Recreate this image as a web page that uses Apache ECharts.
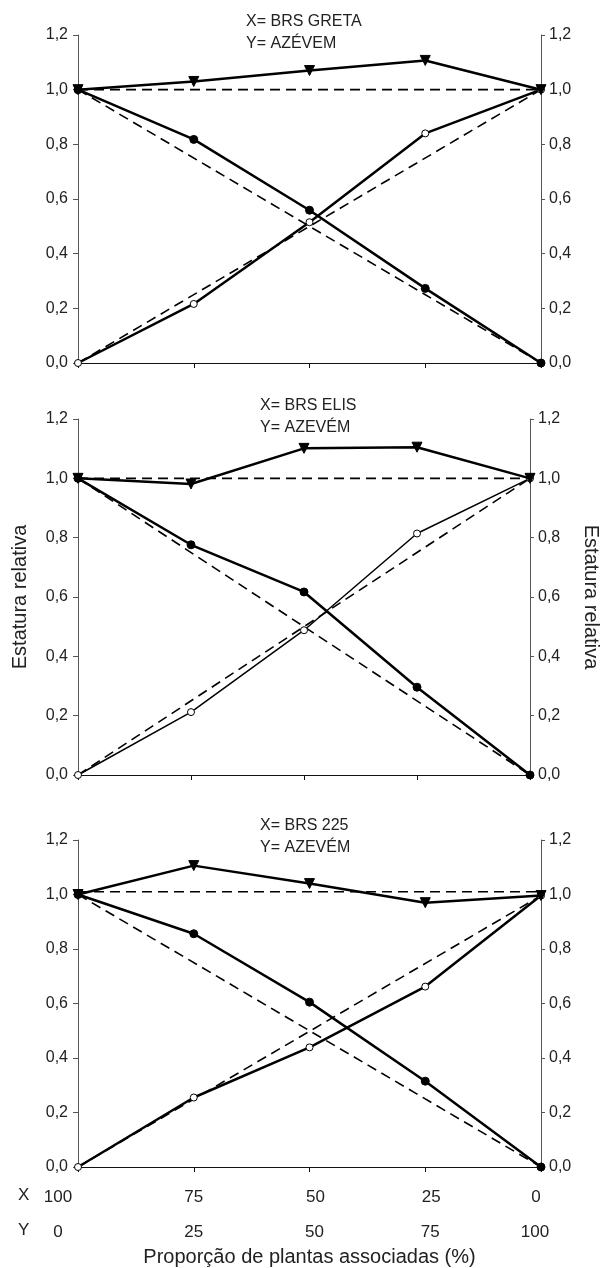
<!DOCTYPE html>
<html>
<head>
<meta charset="utf-8">
<script src="https://cdn.jsdelivr.net/npm/echarts@6/dist/echarts.min.js"></script>
<style>
html,body{margin:0;padding:0;background:#fff;}
#c{width:609px;height:1268px;}
</style>
</head>
<body>
<div id="c"></div>
<script>
// X proportion (%) and Y proportion (%) tick labels
const categoriesX = ['100', '75', '50', '25', '0'];
const categoriesY = ['0', '25', '50', '75', '100'];

// Panel titles
const titles = ['X= BRS GRETA\nY= AZÉVEM', 'X= BRS ELIS\nY= AZEVÉM', 'X= BRS 225\nY= AZEVÉM'];

// Relative stature values
const gretaTotal = [1.0, 1.030, 1.070, 1.107, 1.0];
const gretaX     = [1.0, 0.818, 0.559, 0.273, 0.0];
const gretaY     = [0.0, 0.216, 0.515, 0.840, 1.0];

const elisTotal  = [1.0, 0.981, 1.101, 1.105, 1.0];
const elisX      = [1.0, 0.776, 0.617, 0.296, 0.0];
const elisY      = [0.0, 0.212, 0.488, 0.814, 1.0];

const b225Total  = [1.0, 1.106, 1.040, 0.970, 0.996];
const b225X      = [1.0, 0.856, 0.605, 0.315, 0.0];
const b225Y      = [0.0, 0.255, 0.439, 0.662, 0.996];

// Expected (dashed) lines: values at first and last category
const expTotal = [[1.0, 1.0], [1.0, 1.0], [1.01, 1.01]];
const expX     = [[1.0, 0.0], [1.0, 0.0], [1.0, 0.0]];
const expY     = [[0.0, 1.0], [0.0, 1.0], [0.0, 0.996]];

const panels = [
  {total: gretaTotal, x: gretaX, y: gretaY, yWidth: 2.5},
  {total: elisTotal,  x: elisX,  y: elisY,  yWidth: 1.5},
  {total: b225Total,  x: b225X,  y: b225Y,  yWidth: 2.5}
];

const gridTops = [35, 419, 840];
const gridHeights = [328, 356, 327];
const titlePos = [[246, 11], [260, 395], [260, 815]];

const FONT = 'Liberation Sans, Arial, sans-serif';
const fmt = v => v.toFixed(1).replace('.', ',');

const option = {
  animation: false,
  backgroundColor: '#fff',
  textStyle: {fontFamily: FONT},
  title: titles.map((t, i) => ({
    text: t, left: titlePos[i][0], top: titlePos[i][1], padding: 0,
    textStyle: {fontFamily: FONT, fontSize: 16, fontWeight: 'normal', color: '#222', lineHeight: 22}
  })),
  grid: gridTops.map((t, i) => ({left: 78, right: 68, top: t, height: gridHeights[i]})),
  xAxis: [],
  yAxis: [],
  series: [],
  graphic: [
    {type: 'text', left: 18, top: 1187, style: {text: 'X', font: '17px ' + FONT, fill: '#222'}},
    {type: 'text', left: 18, top: 1222, style: {text: 'Y', font: '17px ' + FONT, fill: '#222'}}
  ]
};

const richBase = {fontSize: 17, color: '#222', fontFamily: FONT};
for (let i = 0; i < 3; i++) {
  const last = i === 2;
  option.xAxis.push({
    type: 'category', gridIndex: i, data: categoriesX, boundaryGap: false,
    axisLine: {lineStyle: {color: '#111', width: 1}},
    axisTick: {show: true, length: 5, lineStyle: {color: '#111'}},
    axisLabel: last ? {
      show: true, margin: 22, fontSize: 17, color: '#222', fontFamily: FONT,
      formatter: (v, idx) => idx === 0 ? '{a|' + v + '}' : (idx === 4 ? '{e|' + v + '}' : (idx >= 2 ? '{m|' + v + '}' : v)),
      rich: {
        a: Object.assign({padding: [0, 40, 0, 0]}, richBase),
        m: Object.assign({padding: [0, 0, 0, 12]}, richBase),
        e: Object.assign({padding: [0, 10, 0, 0]}, richBase)
      }
    } : {show: false},
    splitLine: {show: false}
  });
  option.yAxis.push({
    type: 'value', gridIndex: i, min: 0, max: 1.2, interval: 0.2, position: 'left',
    axisLine: {show: true, lineStyle: {color: '#555', width: 1}},
    axisTick: {show: true, length: 5, lineStyle: {color: '#555'}},
    axisLabel: {formatter: fmt, fontSize: 16, color: '#222', margin: 10, fontFamily: FONT},
    splitLine: {show: false},
    name: i === 1 ? 'Estatura relativa' : '', nameLocation: 'middle', nameGap: 48,
    nameTextStyle: {fontSize: 20, color: '#222', fontFamily: FONT}
  });
  option.yAxis.push({
    type: 'value', gridIndex: i, min: 0, max: 1.2, interval: 0.2, position: 'right',
    axisLine: {show: true, lineStyle: {color: '#555', width: 1}},
    axisTick: {show: true, length: 4, lineStyle: {color: '#555'}},
    axisLabel: {formatter: fmt, fontSize: 16, color: '#222', margin: 8, fontFamily: FONT},
    splitLine: {show: false},
    name: i === 1 ? 'Estatura relativa' : '', nameLocation: 'middle', nameGap: 51, nameRotate: -90,
    nameTextStyle: {fontSize: 20, color: '#222', fontFamily: FONT}
  });
}
// Second x-axis row (Y proportions) on bottom grid
option.xAxis.push({
  type: 'category', gridIndex: 2, data: categoriesY, boundaryGap: false, position: 'bottom',
  axisLine: {show: false}, axisTick: {show: false},
  axisLabel: {
    show: true, margin: 57, fontSize: 17, color: '#222', fontFamily: FONT,
    formatter: (v, idx) => idx === 0 ? '{a|' + v + '}' : (idx === 4 ? '{e|' + v + '}' : (idx >= 2 ? '{m|' + v + '}' : v)),
    rich: {
      a: Object.assign({padding: [0, 40, 0, 0]}, richBase),
      m: Object.assign({padding: [0, 0, 0, 10]}, richBase),
      e: Object.assign({padding: [0, 12, 0, 0]}, richBase)
    }
  },
  name: 'Proporção de plantas associadas (%)', nameLocation: 'middle', nameGap: 80,
  nameTextStyle: {fontSize: 20, color: '#222', fontFamily: FONT}
});

const dashStyle = {color: '#000', width: 1.6, type: [10, 6]};
for (let i = 0; i < 3; i++) {
  const p = panels[i];
  const ax = {xAxisIndex: i, yAxisIndex: i * 2};
  [expTotal[i], expX[i], expY[i]].forEach(d => {
    option.series.push(Object.assign({
      type: 'line', data: [[0, d[0]], [4, d[1]]], symbol: 'none',
      lineStyle: dashStyle, z: 1, silent: true
    }, ax));
  });
  option.series.push(Object.assign({
    type: 'line', data: p.y, symbol: 'circle', symbolSize: 7,
    itemStyle: {color: '#fff', borderColor: '#000', borderWidth: 1},
    lineStyle: {color: '#000', width: p.yWidth}, z: 3
  }, ax));
  option.series.push(Object.assign({
    type: 'line', data: p.x, symbol: 'circle', symbolSize: 8,
    itemStyle: {color: '#000', borderColor: '#000'},
    lineStyle: {color: '#000', width: 2.5}, z: 4
  }, ax));
  option.series.push(Object.assign({
    type: 'line', data: p.total, symbol: 'triangle', symbolRotate: 180, symbolSize: 10,
    itemStyle: {color: '#000', borderColor: '#000'},
    lineStyle: {color: '#000', width: 2.5}, z: 5
  }, ax));
}

const chart = echarts.init(document.getElementById('c'), null, {renderer: 'canvas'});
chart.setOption(option);
</script>
</body>
</html>
